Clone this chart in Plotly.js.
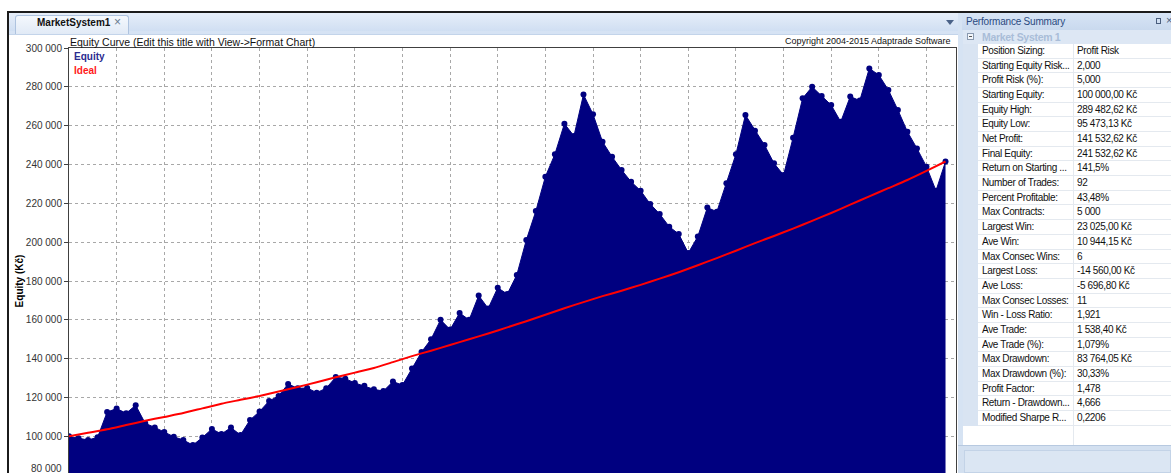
<!DOCTYPE html>
<html>
<head>
<meta charset="utf-8">
<script src="https://cdn.plot.ly/plotly-3.0.1.min.js"></script>
<style>
  html, body { margin:0; padding:0; width:1171px; height:473px; overflow:hidden; background:#ffffff; font-family:"Liberation Sans", Arial, sans-serif; }
  .abs { position:absolute; }
  #chart { position:absolute; left:0; top:0; width:958px; height:560px; }
  .row { position:absolute; left:963px; width:208px; height:14.68px; }
  .lab { position:absolute; left:15px; width:95px; height:100%; background:#fff; border-bottom:1px solid #e4e9ef; box-sizing:border-box; font-size:10px; letter-spacing:-0.35px; line-height:14px; padding-left:4px; color:#111; white-space:nowrap; overflow:hidden; }
  .val { position:absolute; left:110px; width:98px; height:100%; background:#fff; border-bottom:1px solid #e4e9ef; border-left:1px solid #e4e9ef; box-sizing:border-box; font-size:10px; letter-spacing:-0.35px; line-height:14px; padding-left:3px; color:#111; white-space:nowrap; overflow:hidden; }
</style>
</head>
<body>
<div id="chart"></div>

<!-- window chrome -->
<div class="abs" style="left:7px;top:11px;width:1164px;height:2px;background:#1b1b1b"></div>
<div class="abs" style="left:7px;top:11px;width:2px;height:462px;background:#1b1b1b"></div>
<div class="abs" style="left:9px;top:13px;width:949px;height:19px;background:linear-gradient(#e6eef9,#cfdef2)"></div>
<div class="abs" style="left:9px;top:31px;width:949px;height:3px;background:#d6e3f4;border-bottom:1px solid #c3d4ea"></div>
<div class="abs" style="left:15px;top:15px;width:112px;height:18px;background:linear-gradient(#f4f8fd,#e1eaf6);border:1px solid #aec3df;border-bottom:none;border-radius:3px 3px 0 0;"></div>
<div class="abs" style="left:37px;top:17px;font-size:10px;font-weight:bold;color:#111;">MarketSystem1</div>
<div class="abs" style="left:114px;top:15px;font-size:12px;color:#6a7a90;">×</div>
<div class="abs" style="left:946px;top:20px;width:0;height:0;border-left:4px solid transparent;border-right:4px solid transparent;border-top:5px solid #4a6288;"></div>

<!-- right panel -->
<div class="abs" style="left:958px;top:13px;width:213px;height:460px;background:#d6e3f3"></div>
<div class="abs" style="left:962px;top:13px;width:209px;height:17px;background:linear-gradient(#d7e4f5,#c9d9ee)"></div>
<div class="abs" style="left:966px;top:16px;font-size:10px;letter-spacing:-0.2px;color:#2a4a80;">Performance Summary</div>
<div class="abs" style="left:1156px;top:18px;width:5px;height:6px;border:1px solid #4a5e7e;box-sizing:border-box;"></div>
<div class="abs" style="left:1166px;top:14px;font-size:11px;color:#4a5e7e;">×</div>
<div class="abs" style="left:963px;top:30px;width:208px;height:14px;background:#dde7f4"></div>
<div class="abs" style="left:967px;top:33px;width:7px;height:7px;border:1px solid #8a9ab0;box-sizing:border-box;background:#f4f7fb"></div>
<div class="abs" style="left:969px;top:36px;width:3px;height:1px;background:#555"></div>
<div class="abs" style="left:982px;top:30px;font-size:10.5px;letter-spacing:-0.3px;font-weight:bold;color:#a9bdd8;line-height:14px;">Market System 1</div>
<div id="table"></div>
<div class="abs" id="emptyRow" style="left:963px;width:208px;height:20px;background:#fff;"></div>
<div class="abs" id="emptyDiv" style="left:1073px;width:1px;height:20px;background:#e4e9ef;"></div>
<div class="abs" style="left:958px;top:445px;width:213px;height:28px;background:#d3e0f0;border-top:1px solid #b7c9e0"></div>
<div class="abs" style="left:964px;top:450px;width:207px;height:23px;background:#dbe6f3;border:1px solid #c3d3e7;box-sizing:border-box"></div>

<script>
// ---- data ----
const equity = [
  100000, 99000, 98100, 99500, 112500, 114300, 111900, 116000, 106700, 104600,
  102200, 99800, 98100, 95473, 99400, 103800, 101200, 104500, 100700, 108400,
  112800, 118200, 120800, 127000, 124700, 124900, 122500, 124800, 130500, 129700,
  127500, 126000, 124200, 123300, 128200, 126400, 135000, 143400, 150000, 160000,
  155000, 163500, 160000, 172500, 165900, 176500, 173300, 183100, 201100, 216000,
  233700, 245300, 261000, 254700, 276000, 265900, 251700, 244000, 237200, 231100,
  226500, 219700, 214500, 208000, 204200, 194400, 202900, 217800, 215700, 230300,
  245300, 265500, 257400, 250000, 240600, 234600, 253800, 274100, 280000, 275300,
  270600, 262000, 275000, 272900, 289483, 286100, 278400, 268100, 256900, 248300,
  238900, 226500, 241533
];
const idealTrade = [0, 2, 4, 6, 8, 10, 12, 14, 16, 18, 20, 22, 24, 26, 28, 30, 32, 34, 36, 38, 40, 42, 44, 46,
                    48, 50, 52, 54, 56, 58, 60, 62, 64, 66, 68, 70, 72, 74, 76, 78, 80, 82, 84, 86, 88, 90, 92];
const idealValue = [100000, 101800, 103600, 105800, 108000, 110000, 112000, 114400, 116800, 118800,
                    120800, 123100, 125400, 127900, 130400, 132800, 135200, 138200, 141300, 144100,
                    147000, 150000, 153000, 156100, 159300, 162600, 166000, 169100, 172200, 175000,
                    178000, 181200, 184500, 188100, 191800, 195600, 199500, 203200, 207000, 211000,
                    215000, 219300, 223600, 227800, 232000, 236700, 241533];
const yTicks = [100000, 120000, 140000, 160000, 180000, 200000, 220000, 240000, 260000, 280000, 300000];

const summaryLabels = ["Position Sizing:", "Starting Equity Risk...", "Profit Risk (%):", "Starting Equity:",
  "Equity High:", "Equity Low:", "Net Profit:", "Final Equity:", "Return on Starting ...", "Number of Trades:",
  "Percent Profitable:", "Max Contracts:", "Largest Win:", "Ave Win:", "Max Consec Wins:", "Largest Loss:",
  "Ave Loss:", "Max Consec Losses:", "Win - Loss Ratio:", "Ave Trade:", "Ave Trade (%):", "Max Drawdown:",
  "Max Drawdown (%):", "Profit Factor:", "Return - Drawdown...", "Modified Sharpe R..."];
const summaryValues = ["Profit Risk", "2,000", "5,000", "100 000,00 Kč", "289 482,62 Kč", "95 473,13 Kč",
  "141 532,62 Kč", "241 532,62 Kč", "141,5%", "92", "43,48%", "5 000", "23 025,00 Kč", "10 944,15 Kč", "6",
  "-14 560,00 Kč", "-5 696,80 Kč", "11", "1,921", "1 538,40 Kč", "1,079%", "83 764,05 Kč", "30,33%", "1,478",
  "4,666", "0,2206"];

// ---- summary table ----
const ROW_TOP = 44, ROW_H = 14.68;
const tbl = document.getElementById('table');
summaryLabels.forEach((lab, k) => {
  const r = document.createElement('div');
  r.className = 'row';
  r.style.top = (ROW_TOP + k * ROW_H) + 'px';
  r.style.background = '#d9e4f2';
  const a = document.createElement('div'); a.className = 'lab'; a.textContent = lab;
  const b = document.createElement('div'); b.className = 'val'; b.textContent = summaryValues[k];
  r.appendChild(a); r.appendChild(b); tbl.appendChild(r);
});
const endY = ROW_TOP + summaryLabels.length * ROW_H;
document.getElementById('emptyRow').style.top = endY + 'px';
document.getElementById('emptyDiv').style.top = endY + 'px';

// ---- chart ----
const tradeNo = equity.map((_, i) => i);
const font = "Liberation Sans, Arial, sans-serif";

const traces = [
  { x: tradeNo, y: equity, type: 'scatter', mode: 'lines+markers', fill: 'tozeroy',
    fillcolor: '#000080', line: { color: '#000080', width: 1 }, marker: { color: '#000080', size: 6 },
    name: 'Equity', cliponaxis: true },
  { x: idealTrade, y: idealValue, type: 'scatter', mode: 'lines',
    line: { color: '#ff0000', width: 2, shape: 'spline', smoothing: 0.6 }, name: 'Ideal' }
];

const layout = {
  width: 958, height: 560,
  margin: { l: 69, r: 2, t: 48, b: 46 },
  paper_bgcolor: '#ffffff', plot_bgcolor: '#ffffff',
  showlegend: false,
  separators: ', ',
  font: { family: font, size: 10, color: '#333333' },
  title: { text: 'Equity Curve (Edit this title with View->Format Chart)',
           font: { family: font, size: 10.5, color: '#111111' },
           xref: 'container', x: 70 / 958, xanchor: 'left',
           yref: 'container', y: 1 - 42 / 560, yanchor: 'middle' },
  xaxis: {
    range: [0, 93.1], dtick: 5, tick0: 0,
    showgrid: true, gridcolor: '#a8a8a8', griddash: '3px,3px', gridwidth: 1,
    zeroline: false, showline: true, linecolor: '#404040', linewidth: 1, mirror: true,
    showticklabels: false, ticks: ''
  },
  yaxis: {
    range: [60000, 300000], tickmode: 'array', tickvals: yTicks, tickformat: ',d',
    showgrid: true, gridcolor: '#a8a8a8', griddash: '3px,3px', gridwidth: 1,
    zeroline: false, showline: true, linecolor: '#404040', linewidth: 1, mirror: true,
    ticks: 'outside', ticklen: 4, tickcolor: '#404040',
    tickfont: { family: font, size: 10, color: '#333333' },
    title: { text: '<b>Equity (Kč)</b>', font: { family: font, size: 10, color: '#000000' }, standoff: 0 },
    automargin: false
  },
  annotations: [
    { text: 'Copyright 2004-2015 Adaptrade Software', xref: 'paper', yref: 'paper', x: 1, y: 1,
      xanchor: 'right', yanchor: 'bottom', xshift: -3, yshift: 0, showarrow: false,
      font: { family: font, size: 9, color: '#111111' } },
    { text: '<b>Equity</b>', xref: 'paper', yref: 'paper', x: 0, y: 1, xanchor: 'left', yanchor: 'top',
      xshift: 3, yshift: -1, showarrow: false, font: { family: font, size: 10, color: '#2b2b8f' } },
    { text: '<b>Ideal</b>', xref: 'paper', yref: 'paper', x: 0, y: 1, xanchor: 'left', yanchor: 'top',
      xshift: 3, yshift: -15, showarrow: false, font: { family: font, size: 10, color: '#ff1a1a' } },
    { text: '80 000', xref: 'paper', yref: 'y', x: 0, y: 80000, xanchor: 'right', yanchor: 'middle',
      xshift: -5, yshift: 7, showarrow: false, font: { family: font, size: 10, color: '#333333' } }
  ]
};

Plotly.newPlot('chart', traces, layout, { staticPlot: true, displayModeBar: false });
</script>
</body>
</html>
